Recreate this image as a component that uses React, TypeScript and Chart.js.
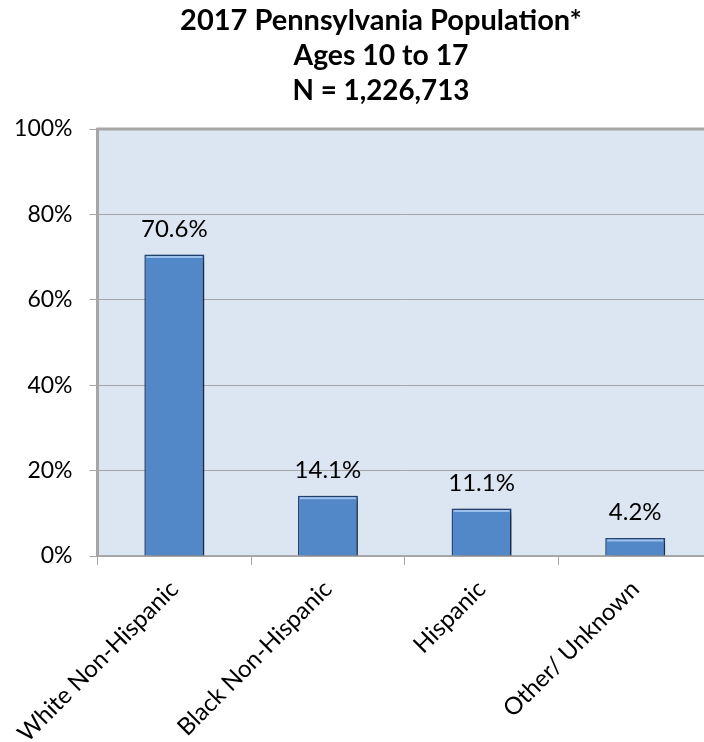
import React, { useEffect, useRef } from 'react';
import { Chart, registerables } from 'chart.js';

Chart.register(...registerables);

const categories = ['White Non-Hispanic', 'Black Non-Hispanic', 'Hispanic', 'Other/ Unknown'];
const values = [70.6, 14.1, 11.1, 4.2];
const valueLabels = ['70.6%', '14.1%', '11.1%', '4.2%'];
const titleLines = ['2017 Pennsylvania Population*', 'Ages 10 to 17', 'N = 1,226,713'];
const yMin = 0;
const yMax = 100;
const yStep = 20;

const FONT = 'Lato';
const GRID = '#a6a6a6';

const plotBg = {
  id: 'plotBg',
  beforeDraw(chart: any) {
    const { ctx, chartArea: a } = chart;
    ctx.save();
    ctx.fillStyle = '#dce6f2';
    ctx.fillRect(a.left, a.top, a.right - a.left, a.bottom - a.top);
    ctx.restore();
  },
  afterDraw(chart: any) {
    const { ctx, chartArea: a } = chart;
    ctx.save();
    ctx.strokeStyle = GRID;
    ctx.lineWidth = 3;
    ctx.beginPath();
    ctx.moveTo(a.left - 1, a.top);
    ctx.lineTo(a.right, a.top);
    ctx.stroke();
    ctx.restore();
  },
};

const barShadow = {
  id: 'barShadow',
  beforeDatasetsDraw(chart: any) {
    const ctx = chart.ctx;
    ctx.save();
    ctx.shadowColor = 'rgba(0,0,0,0.5)';
    ctx.shadowBlur = 8;
    ctx.shadowOffsetX = 5;
    ctx.shadowOffsetY = 2;
  },
  afterDatasetsDraw(chart: any) {
    const ctx = chart.ctx;
    ctx.restore();
    const meta = chart.getDatasetMeta(0);
    ctx.save();
    meta.data.forEach((bar: any, i: number) => {
      const half = bar.width / 2;
      ctx.strokeStyle = '#9cc0ec';
      ctx.lineWidth = 2;
      ctx.beginPath();
      ctx.moveTo(bar.x - half + 2, bar.y + 2.5);
      ctx.lineTo(bar.x + half - 2, bar.y + 2.5);
      ctx.stroke();
      ctx.fillStyle = '#000';
      ctx.font = `24px ${FONT}`;
      ctx.textAlign = 'center';
      ctx.textBaseline = 'alphabetic';
      ctx.fillText(valueLabels[i], bar.x, bar.y - 18);
    });
    ctx.restore();
  },
};

const titlePlugin = {
  id: 'multiTitle',
  afterDraw(chart: any) {
    const ctx = chart.ctx;
    ctx.save();
    ctx.fillStyle = '#000';
    ctx.font = `bold 29px ${FONT}`;
    ctx.textAlign = 'center';
    ctx.textBaseline = 'middle';
    const ys = [21, 56, 91];
    const maxW = [403, 175, 177];
    titleLines.forEach((t, i) => ctx.fillText(t, 381, ys[i], maxW[i]));
    ctx.restore();
  },
};

export default function App() {
  const ref = useRef<HTMLCanvasElement>(null);
  useEffect(() => {
    document.body.style.margin = '0';
    const chart = new Chart(ref.current!, {
      type: 'bar',
      data: {
        labels: categories,
        datasets: [
          {
            data: values,
            backgroundColor: '#5287c8',
            borderColor: '#27497a',
            borderWidth: 1.5,
            barPercentage: 0.39,
            categoryPercentage: 1,
          },
        ],
      },
      options: {
        responsive: false,
        animation: false,
        devicePixelRatio: 1,
        layout: { padding: { top: 129, left: 0, right: 0, bottom: 0 } },
        plugins: {
          legend: { display: false },
          tooltip: { enabled: false },
          title: { display: false },
        },
        scales: {
          x: {
            grid: {
              display: true,
              offset: true,
              drawOnChartArea: false,
              drawTicks: true,
              tickLength: 9,
              color: GRID,
            },
            border: { display: true, color: GRID, width: 2 },
            ticks: {
              color: '#000',
              font: { family: FONT, size: 24 },
              maxRotation: 45,
              minRotation: 45,
              padding: 10,
              autoSkip: false,
            },
            afterFit(scale: any) {
              scale.height = 186;
            },
          },
          y: {
            min: yMin,
            max: yMax,
            ticks: {
              stepSize: yStep,
              color: '#000',
              font: { family: FONT, size: 23 },
              padding: 17,
              callback: (v: any) => v + '%',
            },
            grid: { color: GRID, lineWidth: 1, tickLength: 8 },
            border: { display: true, color: GRID, width: 3 },
            afterFit(scale: any) {
              scale.width = 96;
            },
          },
        },
      },
      plugins: [plotBg, barShadow, titlePlugin],
    });
    return () => chart.destroy();
  }, []);
  return (
    <div style={{ width: 704, height: 742, overflow: 'hidden', position: 'relative', background: '#fff' }}>
      <canvas ref={ref} width={712} height={742} style={{ display: 'block', width: 712, height: 742 }} />
    </div>
  );
}
